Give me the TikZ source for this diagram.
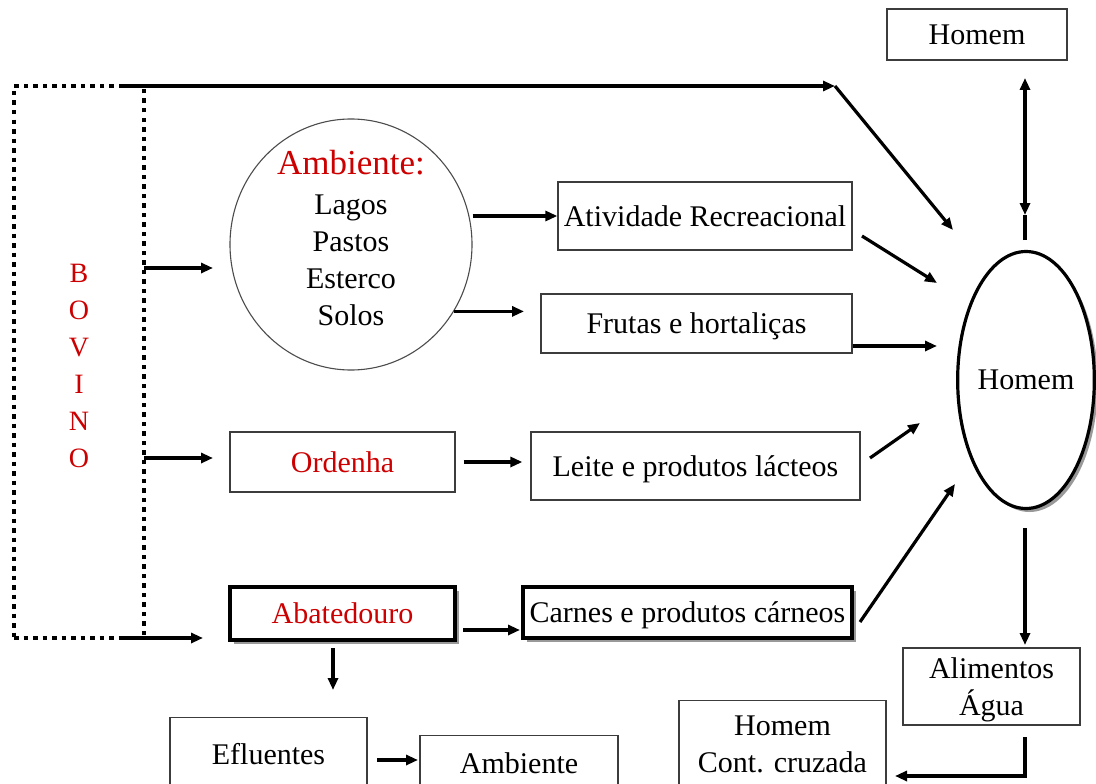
\documentclass[tikz,border=0pt]{standalone}
\usepackage{fontspec}
\setmainfont{Liberation Serif}
\usetikzlibrary{arrows.meta,shapes.geometric,shadows,calc}
\definecolor{mred}{RGB}{204,0,0}
\definecolor{bord}{RGB}{60,60,60}
\begin{document}
\begin{tikzpicture}[x=1pt,y=-1pt,
  font=\fontsize{30}{37}\selectfont,
  tbox/.style={draw=bord, line width=1.3pt, inner sep=0pt, align=center, text depth=0pt},
  kbox/.style={draw=black, fill=white, line width=3.2pt, inner sep=0pt, align=center, text depth=0pt,
    drop shadow={shadow xshift=3.5pt, shadow yshift=-3.5pt, fill=black!40, opacity=1}},
  bovbox/.style={draw=black, line width=4.5pt, dash pattern=on 4.5pt off 5pt, outer sep=0pt,
    inner sep=0pt, align=center, text=mred, font=\fontsize{28}{37}\selectfont},
  tip/.tip={Triangle[length=12pt,width=10pt]},
  arr/.style={line width=3.2pt, -tip},
  ln/.style={line width=3.2pt}
]
\useasboundingbox (0,0) rectangle (1096,784);
\clip (0,0) rectangle (1096,784);
\fill[white] (0,0) rectangle (1096,784);

% nodes
\node[bovbox, minimum width=130pt, minimum height=552pt] (bov) at (79,362) {\rule{0pt}{26pt}B\\O\\V\\I\\N\\O};
\node[ellipse, draw=black!70, line width=1.1pt, minimum width=242pt, minimum height=251pt,
  inner sep=0pt] (amb) at (351,244.5) {};
\node[align=center, inner sep=0pt] (ambt) at (351,238)
  {{\fontsize{35}{37}\selectfont\color{mred}Ambiente:}\\[3pt]Lagos\\Pastos\\Esterco\\Solos};
\node[tbox, minimum width=294pt, minimum height=68pt] (atv) at (705,216) {Atividade Recreacional};
\node[tbox, minimum width=311pt, minimum height=59pt] (fru) at (696.5,323.5) {Frutas e hortaliças};
\node[ellipse, draw=black, fill=white, line width=3.2pt, minimum width=127pt, minimum height=257pt, inner sep=0pt,
  drop shadow={shadow xshift=3.5pt, shadow yshift=-3.5pt, fill=black!40, opacity=1}] (hom) at (1026,380) {Homem};
\node[tbox, minimum width=180pt, minimum height=51pt] (homtop) at (977,34.5) {Homem};
\node[tbox, minimum width=225pt, minimum height=60pt, text=mred] (ord) at (342.5,462) {Ordenha};
\node[tbox, minimum width=329pt, minimum height=68pt] (lei) at (695.5,466) {Leite e produtos lácteos};
\node[kbox, minimum width=225pt, minimum height=53pt, text=mred] (aba) at (342.5,613.5) {Abatedouro};
\node[kbox, minimum width=329pt, minimum height=51pt] (car) at (687.5,612.5) {Carnes e produtos cárneos};
\node[tbox, minimum width=197pt, minimum height=72pt, anchor=north] (efl) at (268.5,717) {Efluentes};
\node[tbox, minimum width=198pt, minimum height=54pt, anchor=north] (ambb) at (519,735) {Ambiente};
\node[tbox, minimum width=207pt, minimum height=88pt, anchor=north] (hcc) at (782.5,700) {Homem\\Cont. cruzada};
\node[tbox, minimum width=177pt, minimum height=77pt] (ali) at (991.5,686.5) {Alimentos\\Água};

% free ends
\coordinate (c1) at (835,86);
\coordinate (c2) at (953,230);
\coordinate (c3) at (213,268);
\coordinate (c5) at (862,236);
\coordinate (c6) at (937,283);
\coordinate (c7) at (937,346);
\coordinate (c8) at (213,458);
\coordinate (c9) at (870,458);
\coordinate (c10) at (920,423);
\coordinate (c11) at (203,638);
\coordinate (c12s) at (463,630);
\coordinate (c12) at (520,630);
\coordinate (c13) at (860,622);
\coordinate (c14) at (955,484);
\coordinate (d1) at (333,648);
\coordinate (d2) at (333,690);
\coordinate (e1) at (377,760);
\coordinate (e2) at (418,760);
\coordinate (u1) at (1025,78);
\coordinate (u2) at (1025,215);
\coordinate (u3) at (1025,240);
\coordinate (h1) at (1025,528);
\coordinate (h2) at (1025,645);
\coordinate (k1) at (1025,737);
\coordinate (k2) at (1025,776);
\coordinate (k3) at (895,776);

% connectors
\draw[arr] ([xshift=-24pt]bov.north east) -- (c1);
\draw[arr] (c1) -- (c2);
\draw[arr] (bov.east |- c3) -- (c3);
\draw[arr] (amb.east |- atv.west) -- (atv.west);
\draw[arr] (amb.-33) -- ++(70,0);
\draw[arr] (c5) -- (c6);
\draw[arr] (fru.east |- c7) -- (c7);
\draw[arr] (bov.east |- c8) -- (c8);
\draw[arr] ([xshift=8pt]ord.east) -- ([xshift=-8pt]ord.east -| lei.west);
\draw[arr] (c9) -- (c10);
\draw[arr] ([xshift=-24pt]bov.south east) -- (c11);
\draw[arr] (c12s) -- (c12);
\draw[arr] (c13) -- (c14);
\draw[arr] (d1) -- (d2);
\draw[arr] (e1) -- (e2);
\draw[ln] (u3) -- (u2);
\draw[line width=3.2pt, tip-tip] (u1) -- (u2);
\draw[arr] (h1) -- (h2);
\draw[arr, line cap=butt] (k1) -- (k2) -- (k3);
\end{tikzpicture}
\end{document}
